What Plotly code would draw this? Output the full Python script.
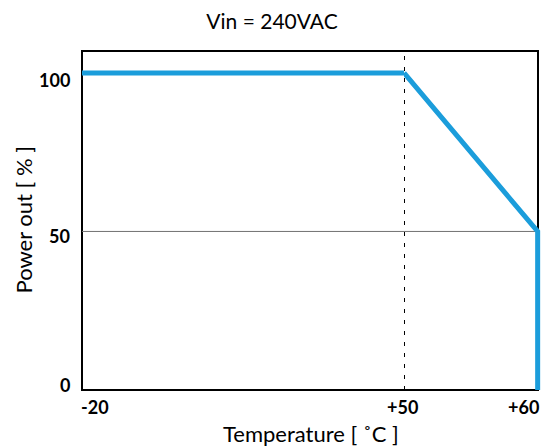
import plotly.graph_objects as go

# Data
temp_left = [-20, 50]
power_left = [100, 100]
temp_right = [50, 60, 60]
power_right = [100, 50, 0]
y_ticks = [0, 50, 100]
y_tick_labels = ["0", "50", "100"]
x_tick_labels = ["-20", "+50", "+60"]
title_text = "Vin = 240VAC"
x_title = "Temperature [ ˚C ]"
y_title = "Power out [ % ]"

FONT = "Lato"
BLUE = "#1B9DDB"
split = (404 - 82) / 459

fig = go.Figure()
fig.add_trace(go.Scatter(x=temp_left, y=power_left, mode="lines",
                         line=dict(color=BLUE, width=5), xaxis="x", yaxis="y",
                         showlegend=False, hoverinfo="skip"))
fig.add_trace(go.Scatter(x=temp_right, y=power_right, mode="lines",
                         line=dict(color=BLUE, width=5), xaxis="x2", yaxis="y",
                         showlegend=False, hoverinfo="skip"))

fig.update_layout(
    width=544, height=446,
    margin=dict(l=82, r=3, t=51, b=56),
    paper_bgcolor="white", plot_bgcolor="white",
    font=dict(family=FONT, color="black"),
    title=dict(text=title_text, x=0.5, xref="container", xanchor="center",
               y=1 - 22 / 446, yanchor="middle", font=dict(size=21, family=FONT)),
    xaxis=dict(domain=[0, split], range=[-20, 50], showgrid=False, zeroline=False,
               showticklabels=False, ticks=""),
    xaxis2=dict(domain=[split, 1], range=[50, 60.25], showgrid=False, zeroline=False,
                showticklabels=False, ticks="", anchor="y"),
    yaxis=dict(range=[0, 106.9], showgrid=False, zeroline=False, ticks="",
               showticklabels=False),
)

# plot frame
fig.add_shape(type="rect", xref="paper", yref="paper", x0=0, x1=(538 - 82) / 459, y0=0, y1=1,
              line=dict(color="black", width=2), layer="below")
# 50% reference line
fig.add_shape(type="line", xref="paper", yref="y", x0=0, x1=(538 - 82) / 459, y0=50, y1=50,
              line=dict(color="#707070", width=1), layer="below")
# dotted line at +50
fig.add_shape(type="line", xref="x2", yref="paper", x0=50, x1=50, y0=0, y1=1,
              line=dict(color="black", width=2, dash="4px,7px"), layer="below")

# y tick labels
y_shifts = [5.5, -5, -7.5]
for v, lab, sh in zip(y_ticks, y_tick_labels, y_shifts):
    fig.add_annotation(text=lab, xref="paper", x=0, yref="y", y=v, xanchor="right",
                       yanchor="middle", xshift=-10, yshift=sh, showarrow=False,
                       font=dict(size=18, family=FONT, weight="bold"))

# x tick labels
fig.add_annotation(text=x_tick_labels[0], xref="x", x=temp_left[0], yref="paper", y=0,
                   xanchor="left", yanchor="middle", yshift=-17, xshift=-3, showarrow=False,
                   font=dict(size=18, family=FONT, weight="bold"))
fig.add_annotation(text=x_tick_labels[1], xref="x2", x=temp_right[0], yref="paper", y=0,
                   xanchor="center", yanchor="middle", yshift=-17, xshift=-2, showarrow=False,
                   font=dict(size=18, family=FONT, weight="bold"))
fig.add_annotation(text=x_tick_labels[2], xref="x2", x=temp_right[1], yref="paper", y=0,
                   xanchor="right", yanchor="middle", yshift=-17, xshift=3, showarrow=False,
                   font=dict(size=18, family=FONT, weight="bold"))
# axis titles
fig.add_annotation(text=x_title, xref="paper", x=0.5, yref="paper", y=0,
                   xanchor="center", yanchor="middle", yshift=-43, xshift=-1, showarrow=False,
                   font=dict(size=22, family=FONT))
fig.add_annotation(text=y_title, xref="paper", x=0, yref="paper", y=0.5, textangle=-90,
                   xanchor="center", yanchor="middle", xshift=-59, showarrow=False,
                   font=dict(size=22, family=FONT))

fig.write_html("out.html")
